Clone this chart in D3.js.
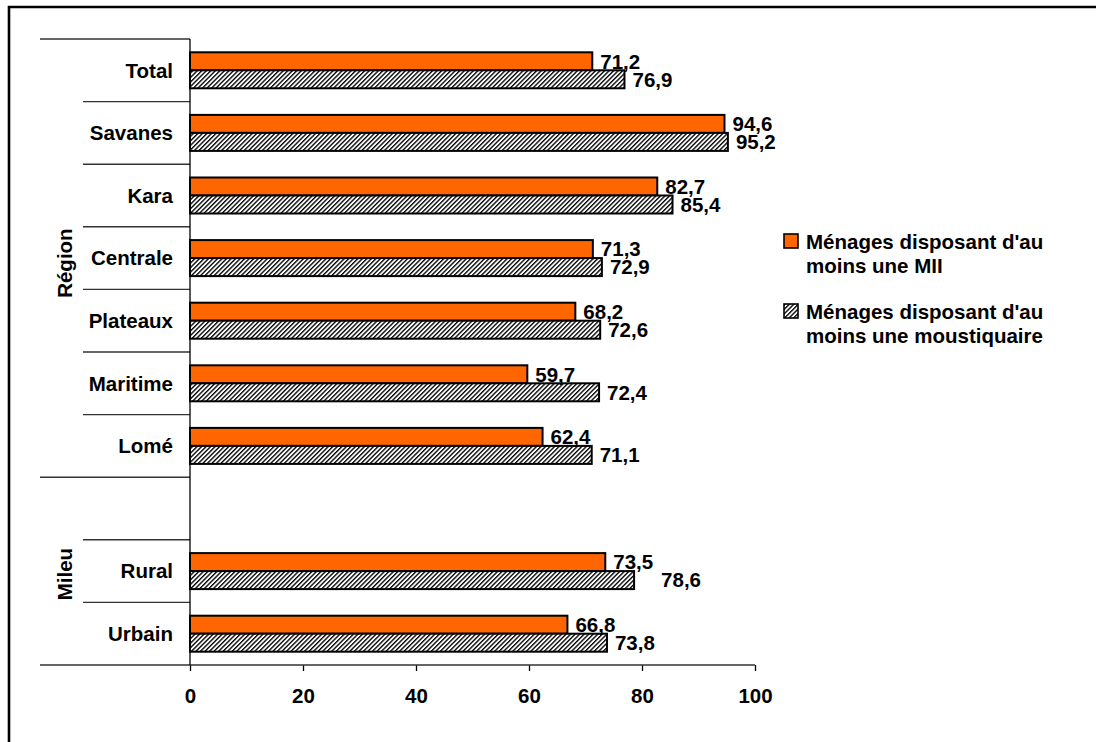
<!DOCTYPE html>
<html>
<head>
<meta charset="utf-8">
<script src="https://cdn.jsdelivr.net/npm/d3@7"></script>
<style>
  html, body { margin: 0; padding: 0; background: #fff; overflow: hidden; }
  svg { display: block; }
  svg text { font-family: "Liberation Sans", Arial, sans-serif; font-weight: bold; fill: #000; }
</style>
</head>
<body>
<div id="chart"></div>
<script>
// Households owning at least one ITN (MII) / at least one mosquito net, by region and area
const categories = ["Total", "Savanes", "Kara", "Centrale", "Plateaux", "Maritime", "Lomé", "Rural", "Urbain"];
const miiValues = [71.2, 94.6, 82.7, 71.3, 68.2, 59.7, 62.4, 73.5, 66.8];
const netValues = [76.9, 95.2, 85.4, 72.9, 72.6, 72.4, 71.1, 78.6, 73.8];
const groupNames = ["Région", "Mileu"];
const groupMembers = [
  ["Total", "Savanes", "Kara", "Centrale", "Plateaux", "Maritime", "Lomé"],
  ["", "Rural", "Urbain"]
];
const seriesNames = [
  ["Ménages disposant d'au", "moins une MII"],
  ["Ménages disposant d'au", "moins une moustiquaire"]
];
const xTicks = [0, 20, 40, 60, 80, 100];

const W = 1096, H = 742;
const FS = 20.5;
const ORANGE = "#FF6600";

const svg = d3.select("#chart").append("svg")
  .attr("width", W).attr("height", H);

// hatch fill for the second series
const defs = svg.append("defs");
const pat = defs.append("pattern")
  .attr("id", "hatch")
  .attr("patternUnits", "userSpaceOnUse")
  .attr("width", 3.2).attr("height", 3.2)
  .attr("patternTransform", "rotate(45)");
pat.append("rect").attr("width", 3.2).attr("height", 3.2).attr("fill", "#fff");
pat.append("rect").attr("width", 1.35).attr("height", 3.2).attr("fill", "#000");

// outer frame: top and left edges (the rest lies outside the page)
svg.append("path")
  .attr("d", `M9,${H} L9,7 L${W},7`)
  .attr("fill", "none").attr("stroke", "#000").attr("stroke-width", 2.6);

// slots: every category plus an empty slot opening the second group
const slots = [];
groupMembers.forEach((m, gi) => m.forEach(c => slots.push(c === "" ? "__gap" + gi : c)));

const x = d3.scaleLinear().domain([0, 100]).range([190, 755]);
const y = d3.scaleBand().domain(slots).range([39, 665]).paddingInner(0).paddingOuter(0);
const barH = 18;

// separators between categories and groups, with group titles
const sep = svg.append("g").attr("stroke", "#333").attr("stroke-width", 1.4);
const titleShift = [5, 3];
let idx = 0;
groupMembers.forEach((m, gi) => {
  const top = y(slots[idx]);
  sep.append("line").attr("x1", 40).attr("x2", x(0)).attr("y1", top).attr("y2", top);
  for (let k = 1; k < m.length; k++) {
    const yy = y(slots[idx + k]);
    sep.append("line").attr("x1", 83).attr("x2", x(0)).attr("y1", yy).attr("y2", yy);
  }
  const bottom = y(slots[idx + m.length - 1]) + y.bandwidth();
  svg.append("text")
    .attr("transform", `translate(72,${(top + bottom) / 2 + titleShift[gi]}) rotate(-90)`)
    .attr("text-anchor", "middle")
    .attr("font-size", FS)
    .text(groupNames[gi]);
  idx += m.length;
});

// x axis
const xAxis = d3.axisBottom(x).tickValues(xTicks).tickSize(6).tickFormat(d3.format("d"));
const gx = svg.append("g").attr("transform", `translate(0,${y.range()[1]})`).call(xAxis);
gx.select(".domain").remove();
gx.selectAll(".tick line").attr("stroke", "#000").attr("stroke-width", 1.3);
gx.selectAll(".tick text").attr("font-size", FS).attr("dy", null).attr("y", 38)
  .attr("font-family", "Liberation Sans, Arial, sans-serif").attr("font-weight", "bold").attr("fill", "#000");
svg.append("line").attr("x1", 40).attr("x2", x(100)).attr("y1", y.range()[1]).attr("y2", y.range()[1])
  .attr("stroke", "#333").attr("stroke-width", 1.4);

// vertical axis line
svg.append("line").attr("x1", x(0)).attr("x2", x(0)).attr("y1", y.range()[0]).attr("y2", y.range()[1])
  .attr("stroke", "#000").attr("stroke-width", 1.3);

// category labels
svg.append("g").selectAll("text").data(categories).join("text")
  .attr("x", 173)
  .attr("y", d => y(d) + y.bandwidth() / 2)
  .attr("dy", "0.36em")
  .attr("text-anchor", "end")
  .attr("font-size", FS)
  .text(d => d);

// bars
const rows = categories.map((c, i) => ({ c, mii: miiValues[i], net: netValues[i] }));
const mid = d => y(d.c) + y.bandwidth() / 2;

const bars = svg.append("g");
bars.selectAll("rect.mii").data(rows).join("rect").attr("class", "mii")
  .attr("x", x(0)).attr("y", d => mid(d) - barH)
  .attr("width", d => x(d.mii) - x(0)).attr("height", barH)
  .attr("fill", ORANGE).attr("stroke", "#000").attr("stroke-width", 2);
bars.selectAll("rect.net").data(rows).join("rect").attr("class", "net")
  .attr("x", x(0)).attr("y", d => mid(d))
  .attr("width", d => x(d.net) - x(0)).attr("height", barH)
  .attr("fill", "url(#hatch)").attr("stroke", "#000").attr("stroke-width", 2);

// value labels (comma decimal)
const fmt = v => v.toFixed(1).replace(".", ",");
const netLabelShift = { Rural: 19 };
const labels = svg.append("g");
labels.selectAll("text.mii").data(rows).join("text")
  .attr("x", d => x(d.mii) + 8).attr("y", d => mid(d) - barH / 2)
  .attr("dy", "0.36em").attr("font-size", FS)
  .text(d => fmt(d.mii));
labels.selectAll("text.net").data(rows).join("text")
  .attr("x", d => x(d.net) + 8 + (netLabelShift[d.c] || 0)).attr("y", d => mid(d) + barH / 2)
  .attr("dy", "0.36em").attr("font-size", FS)
  .text(d => fmt(d.net));

// legend
const legend = svg.append("g").attr("transform", "translate(784,234)");
const fills = [ORANGE, "url(#hatch)"];
seriesNames.forEach((lines, i) => {
  const g = legend.append("g").attr("transform", `translate(0,${i * 70})`);
  g.append("rect").attr("x", 0).attr("y", 0).attr("width", 14).attr("height", 14)
    .attr("fill", fills[i]).attr("stroke", "#000").attr("stroke-width", 1.6);
  lines.forEach((t, j) => {
    g.append("text").attr("x", 22).attr("y", 15 + j * 24).attr("font-size", FS).text(t);
  });
});
</script>
</body>
</html>
